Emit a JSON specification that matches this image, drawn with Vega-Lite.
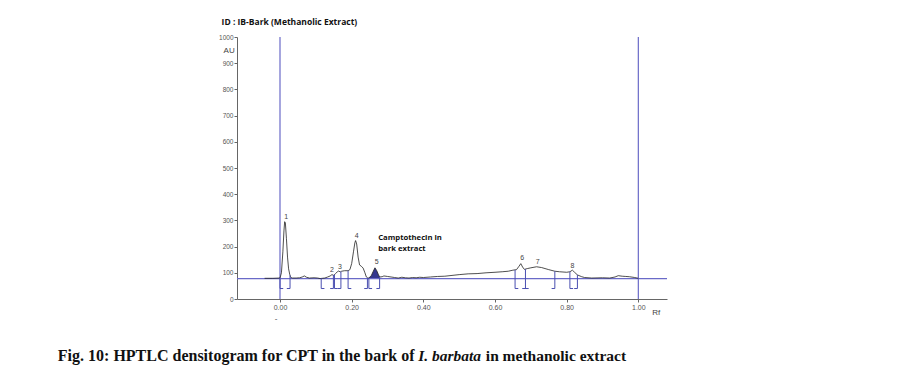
{
  "$schema": "https://vega.github.io/schema/vega-lite/v6.json",
  "width": 430,
  "height": 262,
  "autosize": "none",
  "padding": {"left": 237, "top": 37, "right": 231, "bottom": 91},
  "background": "white",
  "config": {"view": {"stroke": null}, "font": "Liberation Sans"},
  "datasets": {
    "curve": [
      {"rf": -0.043, "au": 79}, {"rf": -0.02, "au": 79}, {"rf": 0.0, "au": 80},
      {"rf": 0.004, "au": 100}, {"rf": 0.008, "au": 180}, {"rf": 0.011, "au": 260},
      {"rf": 0.013, "au": 295}, {"rf": 0.015, "au": 290}, {"rf": 0.018, "au": 230},
      {"rf": 0.021, "au": 160}, {"rf": 0.024, "au": 115}, {"rf": 0.027, "au": 95},
      {"rf": 0.030, "au": 82}, {"rf": 0.035, "au": 80}, {"rf": 0.045, "au": 80},
      {"rf": 0.055, "au": 81}, {"rf": 0.062, "au": 84}, {"rf": 0.068, "au": 88},
      {"rf": 0.074, "au": 83}, {"rf": 0.082, "au": 80}, {"rf": 0.095, "au": 81},
      {"rf": 0.105, "au": 80}, {"rf": 0.112, "au": 78}, {"rf": 0.118, "au": 79},
      {"rf": 0.125, "au": 80}, {"rf": 0.133, "au": 84}, {"rf": 0.140, "au": 88},
      {"rf": 0.145, "au": 93}, {"rf": 0.150, "au": 90}, {"rf": 0.155, "au": 97},
      {"rf": 0.160, "au": 104}, {"rf": 0.164, "au": 107}, {"rf": 0.168, "au": 103},
      {"rf": 0.172, "au": 106}, {"rf": 0.180, "au": 108}, {"rf": 0.190, "au": 108},
      {"rf": 0.195, "au": 112}, {"rf": 0.200, "au": 135}, {"rf": 0.205, "au": 180},
      {"rf": 0.209, "au": 215}, {"rf": 0.211, "au": 223}, {"rf": 0.214, "au": 210},
      {"rf": 0.218, "au": 160}, {"rf": 0.222, "au": 130}, {"rf": 0.227, "au": 125},
      {"rf": 0.232, "au": 118}, {"rf": 0.237, "au": 100}, {"rf": 0.241, "au": 84},
      {"rf": 0.245, "au": 80}, {"rf": 0.248, "au": 80}, {"rf": 0.255, "au": 90},
      {"rf": 0.260, "au": 105}, {"rf": 0.265, "au": 119}, {"rf": 0.270, "au": 108},
      {"rf": 0.275, "au": 92}, {"rf": 0.278, "au": 84}, {"rf": 0.285, "au": 85},
      {"rf": 0.290, "au": 88}, {"rf": 0.300, "au": 86}, {"rf": 0.310, "au": 84},
      {"rf": 0.320, "au": 82}, {"rf": 0.330, "au": 80}, {"rf": 0.340, "au": 83},
      {"rf": 0.350, "au": 81}, {"rf": 0.360, "au": 80}, {"rf": 0.370, "au": 82},
      {"rf": 0.380, "au": 81}, {"rf": 0.390, "au": 83}, {"rf": 0.400, "au": 82},
      {"rf": 0.420, "au": 84}, {"rf": 0.440, "au": 86}, {"rf": 0.460, "au": 87},
      {"rf": 0.480, "au": 90}, {"rf": 0.500, "au": 93}, {"rf": 0.525, "au": 96},
      {"rf": 0.550, "au": 97}, {"rf": 0.575, "au": 100}, {"rf": 0.600, "au": 102},
      {"rf": 0.620, "au": 104}, {"rf": 0.637, "au": 106}, {"rf": 0.650, "au": 110},
      {"rf": 0.660, "au": 112}, {"rf": 0.667, "au": 125}, {"rf": 0.672, "au": 135},
      {"rf": 0.677, "au": 122}, {"rf": 0.682, "au": 113}, {"rf": 0.690, "au": 116},
      {"rf": 0.700, "au": 119}, {"rf": 0.716, "au": 123}, {"rf": 0.730, "au": 120},
      {"rf": 0.750, "au": 112}, {"rf": 0.767, "au": 106}, {"rf": 0.780, "au": 104},
      {"rf": 0.800, "au": 102}, {"rf": 0.809, "au": 104}, {"rf": 0.816, "au": 110},
      {"rf": 0.822, "au": 102}, {"rf": 0.830, "au": 92}, {"rf": 0.842, "au": 85},
      {"rf": 0.850, "au": 82}, {"rf": 0.870, "au": 80}, {"rf": 0.900, "au": 81},
      {"rf": 0.920, "au": 80}, {"rf": 0.935, "au": 84}, {"rf": 0.944, "au": 89},
      {"rf": 0.955, "au": 87}, {"rf": 0.965, "au": 86}, {"rf": 0.975, "au": 85},
      {"rf": 0.990, "au": 82}, {"rf": 1.0, "au": 79}
    ],
    "guides": [
      {"rf": 0, "au": 0, "rf2": 0, "au2": 1000},
      {"rf": 1, "au": 0, "rf2": 1, "au2": 1000},
      {"rf": -0.12, "au": 78, "rf2": 1.08, "au2": 78}
    ],
    "brackets": [
      {"rf": 0.0, "au": 80, "rf2": 0.0, "au2": 40},
      {"rf": 0.0, "au": 40, "rf2": 0.009, "au2": 40},
      {"rf": 0.028, "au": 90, "rf2": 0.028, "au2": 40},
      {"rf": 0.028, "au": 40, "rf2": 0.019, "au2": 40},
      {"rf": 0.115, "au": 79, "rf2": 0.115, "au2": 40},
      {"rf": 0.115, "au": 40, "rf2": 0.124, "au2": 40},
      {"rf": 0.149, "au": 91, "rf2": 0.149, "au2": 40},
      {"rf": 0.149, "au": 40, "rf2": 0.140, "au2": 40},
      {"rf": 0.152, "au": 93, "rf2": 0.152, "au2": 40},
      {"rf": 0.152, "au": 40, "rf2": 0.161, "au2": 40},
      {"rf": 0.170, "au": 105, "rf2": 0.170, "au2": 40},
      {"rf": 0.170, "au": 40, "rf2": 0.161, "au2": 40},
      {"rf": 0.190, "au": 108, "rf2": 0.190, "au2": 40},
      {"rf": 0.190, "au": 40, "rf2": 0.199, "au2": 40},
      {"rf": 0.244, "au": 81, "rf2": 0.244, "au2": 40},
      {"rf": 0.244, "au": 40, "rf2": 0.235, "au2": 40},
      {"rf": 0.248, "au": 80, "rf2": 0.248, "au2": 40},
      {"rf": 0.248, "au": 40, "rf2": 0.257, "au2": 40},
      {"rf": 0.278, "au": 84, "rf2": 0.278, "au2": 40},
      {"rf": 0.278, "au": 40, "rf2": 0.269, "au2": 40},
      {"rf": 0.656, "au": 111, "rf2": 0.656, "au2": 40},
      {"rf": 0.656, "au": 40, "rf2": 0.665, "au2": 40},
      {"rf": 0.685, "au": 114, "rf2": 0.685, "au2": 40},
      {"rf": 0.676, "au": 40, "rf2": 0.694, "au2": 40},
      {"rf": 0.767, "au": 106, "rf2": 0.767, "au2": 40},
      {"rf": 0.767, "au": 40, "rf2": 0.758, "au2": 40},
      {"rf": 0.809, "au": 104, "rf2": 0.809, "au2": 40},
      {"rf": 0.809, "au": 40, "rf2": 0.818, "au2": 40},
      {"rf": 0.830, "au": 92, "rf2": 0.830, "au2": 40},
      {"rf": 0.830, "au": 40, "rf2": 0.821, "au2": 40}
    ],
    "peaklabels": [
      {"rf": 0.0176, "au": 314, "text": "1"},
      {"rf": 0.145, "au": 109, "text": "2"},
      {"rf": 0.167, "au": 123, "text": "3"},
      {"rf": 0.214, "au": 242, "text": "4"},
      {"rf": 0.270, "au": 142, "text": "5"},
      {"rf": 0.676, "au": 155, "text": "6"},
      {"rf": 0.719, "au": 142, "text": "7"},
      {"rf": 0.816, "au": 125, "text": "8"}
    ],
    "annot": [
      {"rf": 0.274, "au": 231, "text": "Camptothecin in"},
      {"rf": 0.274, "au": 189, "text": "bark extract"}
    ],
    "header": [
      {"rf": -0.163, "au": 1059, "text": "ID : IB-Bark (Methanolic Extract)"}
    ],
    "units": [
      {"rf": -0.142, "au": 948, "text": "AU"},
      {"rf": 1.05, "au": -55, "text": "Rf"},
      {"rf": -0.011, "au": -78, "text": "-"}
    ],
    "cap1": [{"rf": -0.620, "au": -219, "text": "Fig. 10: HPTLC densitogram for CPT in the bark of"}],
    "cap2": [{"rf": 0.3855, "au": -219, "text": "I. barbata"}],
    "cap3": [{"rf": 0.966, "au": -219, "text": "in methanolic extract"}]
  },
  "encoding": {
    "x": {
      "field": "rf", "type": "quantitative",
      "scale": {"domain": [-0.12, 1.08], "nice": false, "zero": false},
      "axis": {"values": [0, 0.2, 0.4, 0.6, 0.8, 1.0], "format": ".2f", "title": null,
               "grid": false, "labelFontSize": 7, "labelColor": "#555", "tickSize": 3,
               "tickColor": "#666", "domainColor": "#666", "labelPadding": 1, "labelFlush": false}
    },
    "y": {
      "field": "au", "type": "quantitative",
      "scale": {"domain": [0, 1000], "nice": false, "zero": false},
      "axis": {"values": [0, 100, 200, 300, 400, 500, 600, 700, 800, 900, 1000], "format": "d", "title": null,
               "grid": false, "labelFontSize": 6.5, "labelColor": "#555", "tickSize": 3,
               "tickColor": "#666", "domainColor": "#666", "labelPadding": 1, "labelFlush": false}
    }
  },
  "layer": [
    {
      "data": {"name": "curve"},
      "transform": [{"filter": {"field": "rf", "range": [0.248, 0.278]}}],
      "mark": {"type": "area", "color": "#34378f", "opacity": 1},
      "encoding": {"y2": {"datum": 78}}
    },
    {
      "data": {"name": "guides"},
      "mark": {"type": "rule", "color": "#6a6ac8", "strokeWidth": 1.2},
      "encoding": {"x2": {"field": "rf2"}, "y2": {"field": "au2"}}
    },
    {
      "data": {"name": "curve"},
      "mark": {"type": "line", "color": "#222", "strokeWidth": 0.8},
      "encoding": {}
    },
    {
      "data": {"name": "brackets"},
      "mark": {"type": "rule", "color": "#4a4fb0", "strokeWidth": 1},
      "encoding": {"x2": {"field": "rf2"}, "y2": {"field": "au2"}}
    },
    {
      "data": {"name": "peaklabels"},
      "mark": {"type": "text", "fontSize": 7, "color": "#444", "baseline": "middle", "align": "center"},
      "encoding": {"text": {"field": "text"}}
    },
    {
      "data": {"name": "annot"},
      "mark": {"type": "text", "fontSize": 7.7, "fontWeight": "bold", "font": "Open Sans", "color": "#111", "baseline": "middle", "align": "left"},
      "encoding": {"text": {"field": "text"}}
    },
    {
      "data": {"name": "header"},
      "mark": {"type": "text", "fontSize": 8.5, "fontWeight": "bold", "font": "Open Sans", "color": "#111", "baseline": "middle", "align": "left"},
      "encoding": {"text": {"field": "text"}}
    },
    {
      "data": {"name": "units"},
      "mark": {"type": "text", "fontSize": 8, "color": "#444", "baseline": "middle", "align": "center"},
      "encoding": {"text": {"field": "text"}}
    },
    {
      "data": {"name": "cap1"},
      "mark": {"type": "text", "fontSize": 16, "fontWeight": "bold", "font": "Liberation Serif", "color": "#111", "baseline": "middle", "align": "left"},
      "encoding": {"text": {"field": "text"}}
    },
    {
      "data": {"name": "cap2"},
      "mark": {"type": "text", "fontSize": 15.5, "fontWeight": "bold", "fontStyle": "italic", "font": "Liberation Serif", "color": "#111", "baseline": "middle", "align": "left"},
      "encoding": {"text": {"field": "text"}}
    },
    {
      "data": {"name": "cap3"},
      "mark": {"type": "text", "fontSize": 15.5, "fontWeight": "bold", "font": "Liberation Serif", "color": "#111", "baseline": "middle", "align": "right"},
      "encoding": {"text": {"field": "text"}}
    }
  ]
}
